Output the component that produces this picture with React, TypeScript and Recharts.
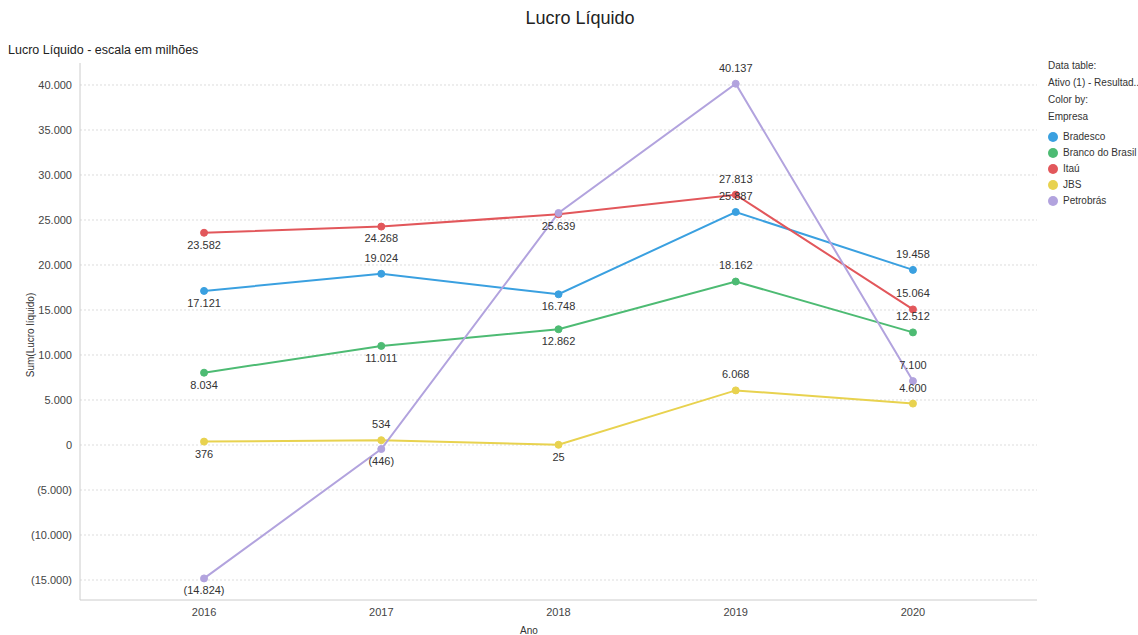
import { LineChart, Line, XAxis, YAxis, CartesianGrid, LabelList } from "recharts";

const years = [2016, 2017, 2018, 2019, 2020];
const bradesco = [17121, 19024, 16748, 25887, 19458];
const bancoBrasil = [8034, 11011, 12862, 18162, 12512];
const itau = [23582, 24268, 25639, 27813, 15064];
const jbs = [376, 534, 25, 6068, 4600];
const petrobras = [-14824, -446, 25779, 40137, 7100];
const yTicks = [-15000, -10000, -5000, 0, 5000, 10000, 15000, 20000, 25000, 30000, 35000, 40000];

// where each value label sits relative to its point (null = hidden)
const bradescoPos = ["below", "above", "below", "above", "above"];
const bancoBrasilPos = ["below", "below", "below", "above", "above"];
const itauPos = ["below", "below", "below", "above", "above"];
const jbsPos = ["below", "above", "below", "above", "above"];
const petrobrasPos = ["below", "below", null, "above", "above"];

const series = [
  { key: "bradesco", name: "Bradesco", color: "#3aa0e0", values: bradesco, pos: bradescoPos },
  { key: "bancoBrasil", name: "Branco do Brasil", color: "#4dbb73", values: bancoBrasil, pos: bancoBrasilPos },
  { key: "itau", name: "Itaú", color: "#e2575b", values: itau, pos: itauPos },
  { key: "jbs", name: "JBS", color: "#e8d24f", values: jbs, pos: jbsPos },
  { key: "petrobras", name: "Petrobrás", color: "#b2a3de", values: petrobras, pos: petrobrasPos },
];

const data = years.map((year, i) => ({
  year,
  bradesco: bradesco[i],
  bancoBrasil: bancoBrasil[i],
  itau: itau[i],
  jbs: jbs[i],
  petrobras: petrobras[i],
}));

const FONT = "'Liberation Sans', Arial, sans-serif";

function fmt(v: number) {
  const s = Math.abs(v).toString().replace(/\B(?=(\d{3})+(?!\d))/g, ".");
  return v < 0 ? `(${s})` : s;
}

function makeLabel(pos: (string | null)[]) {
  return (props: any) => {
    const { x, y, value, index } = props;
    const p = pos[index];
    if (!p) return null;
    return (
      <text
        x={x}
        y={p === "above" ? y - 15 : y + 13}
        textAnchor="middle"
        dominantBaseline="middle"
        fontSize={11}
        fill="#333"
        fontFamily={FONT}
      >
        {fmt(value)}
      </text>
    );
  };
}

export default function App() {
  return (
    <div
      style={{
        position: "absolute",
        left: 0,
        top: 0,
        width: 1138,
        height: 635,
        background: "#fff",
        fontFamily: FONT,
        overflow: "hidden",
      }}
    >
      <div style={{ position: "absolute", top: 8, left: 0, width: 1160, textAlign: "center", fontSize: 18, color: "#222" }}>
        Lucro Líquido
      </div>
      <div style={{ position: "absolute", top: 43, left: 8, fontSize: 12.5, color: "#222" }}>
        Lucro Líquido - escala em milhões
      </div>
      <div
        style={{
          position: "absolute",
          left: 30,
          top: 335,
          transform: "translate(-50%, -50%) rotate(-90deg)",
          fontSize: 10,
          color: "#333",
          whiteSpace: "nowrap",
        }}
      >
        Sum(Lucro líquido)
      </div>
      <div style={{ position: "absolute", left: 520, top: 625, fontSize: 10, color: "#333" }}>Ano</div>

      <div
        style={{
          position: "absolute",
          left: 1048,
          top: 57,
          fontSize: 10,
          color: "#333",
          lineHeight: "17px",
          whiteSpace: "nowrap",
        }}
      >
        <div>Data table:</div>
        <div>Ativo (1) - Resultad..</div>
        <div>Color by:</div>
        <div>Empresa</div>
        <div style={{ marginTop: 4, lineHeight: "16px" }}>
          {series.map((s) => (
            <div key={s.key} style={{ display: "flex", alignItems: "center" }}>
              <span
                style={{
                  display: "inline-block",
                  width: 10,
                  height: 10,
                  borderRadius: 5,
                  background: s.color,
                  marginRight: 5,
                }}
              />
              {s.name}
            </div>
          ))}
        </div>
      </div>

      <div style={{ position: "absolute", left: 0, top: 0 }}>
        <LineChart width={1138} height={635} data={data} margin={{ top: 63, right: 101, bottom: 5, left: 20 }}>
          <CartesianGrid vertical={false} stroke="#ddd" strokeDasharray="2 2" syncWithTicks />
          <XAxis
            dataKey="year"
            type="number"
            domain={[2015.3, 2020.7]}
            ticks={years}
            allowDataOverflow
            height={30}
            stroke="#ccc"
            tickLine={false}
            tick={{ fill: "#444", fontSize: 11, fontFamily: FONT }}
            tickFormatter={(v) => String(v)}
          />
          <YAxis
            width={60}
            domain={[-17222, 42444]}
            ticks={yTicks}
            allowDataOverflow
            stroke="#ccc"
            tickLine={false}
            tick={{ fill: "#444", fontSize: 11, fontFamily: FONT }}
            tickFormatter={fmt}
          />
          {series.map((s) => (
            <Line
              key={s.key}
              dataKey={s.key}
              name={s.name}
              type="linear"
              stroke={s.color}
              strokeWidth={2}
              dot={{ r: 3.5, fill: s.color, stroke: s.color, strokeWidth: 1 }}
              isAnimationActive={false}
            >
              <LabelList dataKey={s.key} content={makeLabel(s.pos)} />
            </Line>
          ))}
        </LineChart>
      </div>
    </div>
  );
}
